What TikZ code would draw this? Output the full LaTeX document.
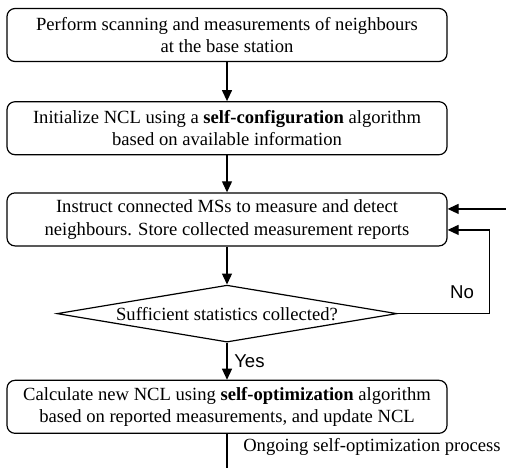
\documentclass[tikz,border=0pt]{standalone}
\usepackage{fontspec}
\setmainfont{Liberation Serif}
\newfontfamily\labelfont{Liberation Sans}
\usetikzlibrary{arrows.meta,positioning,shapes.geometric}

\begin{document}
\begin{tikzpicture}[>={Triangle[length=5.5pt,width=5pt]},
    line width=0.6pt,
    block/.style={draw, rectangle, rounded corners=4pt, minimum height=26.5pt, minimum width=220pt, align=center, inner sep=2pt, font=\fontsize{9.3}{11.2}\selectfont},
    decision/.style={draw, diamond, aspect=6, inner sep=0pt, minimum width=170pt, minimum height=28.5pt, font=\fontsize{9.3}{11.2}\selectfont},
    branch/.style={font=\labelfont\fontsize{9.3}{11}\selectfont},
    node distance=19pt
]
    \useasboundingbox (0,0) rectangle (253pt,-234pt);

    % Nodes
    \node[block] (scan) at (113.5pt,-17.5pt) {Perform scanning and measurements of neighbours\\at the base station};
    \node[block, below=19.5pt of scan] (init) {Initialize NCL using a \textbf{self-configuration} algorithm\\based on available information};
    \node[block, below=18.5pt of init] (instruct) {Instruct connected MSs to measure and detect\\neighbours. Store collected measurement reports};
    \node[decision, below=19pt of instruct] (stats) {Sufficient statistics collected?};
    \node[block, below=18.5pt of stats] (calc) {Calculate new NCL using \textbf{self-optimization} algorithm\\based on reported measurements, and update NCL};

    \coordinate (entry) at ([xshift=29.5pt,yshift=5.25pt]instruct.east);
    \coordinate (exit) at (113.5pt,-234pt);
    \node[anchor=west, font=\fontsize{9.3}{11.2}\selectfont] (ongoing) at (118pt,-223.5pt) {Ongoing self-optimization process};

    % Lines
    \draw[->] (scan) -- (init);
    \draw[->] (init) -- (instruct);
    \draw[->] (instruct) -- (stats);
    \draw[->] (stats) -- node[branch, right] (yes) {Yes} (calc);
    \draw[->] (stats.east) -- ++(46pt,0) |- ([yshift=-5.25pt]instruct.east);
    \node[branch] (no) at (231pt,-146pt) {No};
    \draw[->] (entry) -- ([yshift=5.25pt]instruct.east);
    \draw (calc) -- (exit);
\end{tikzpicture}
\end{document}
